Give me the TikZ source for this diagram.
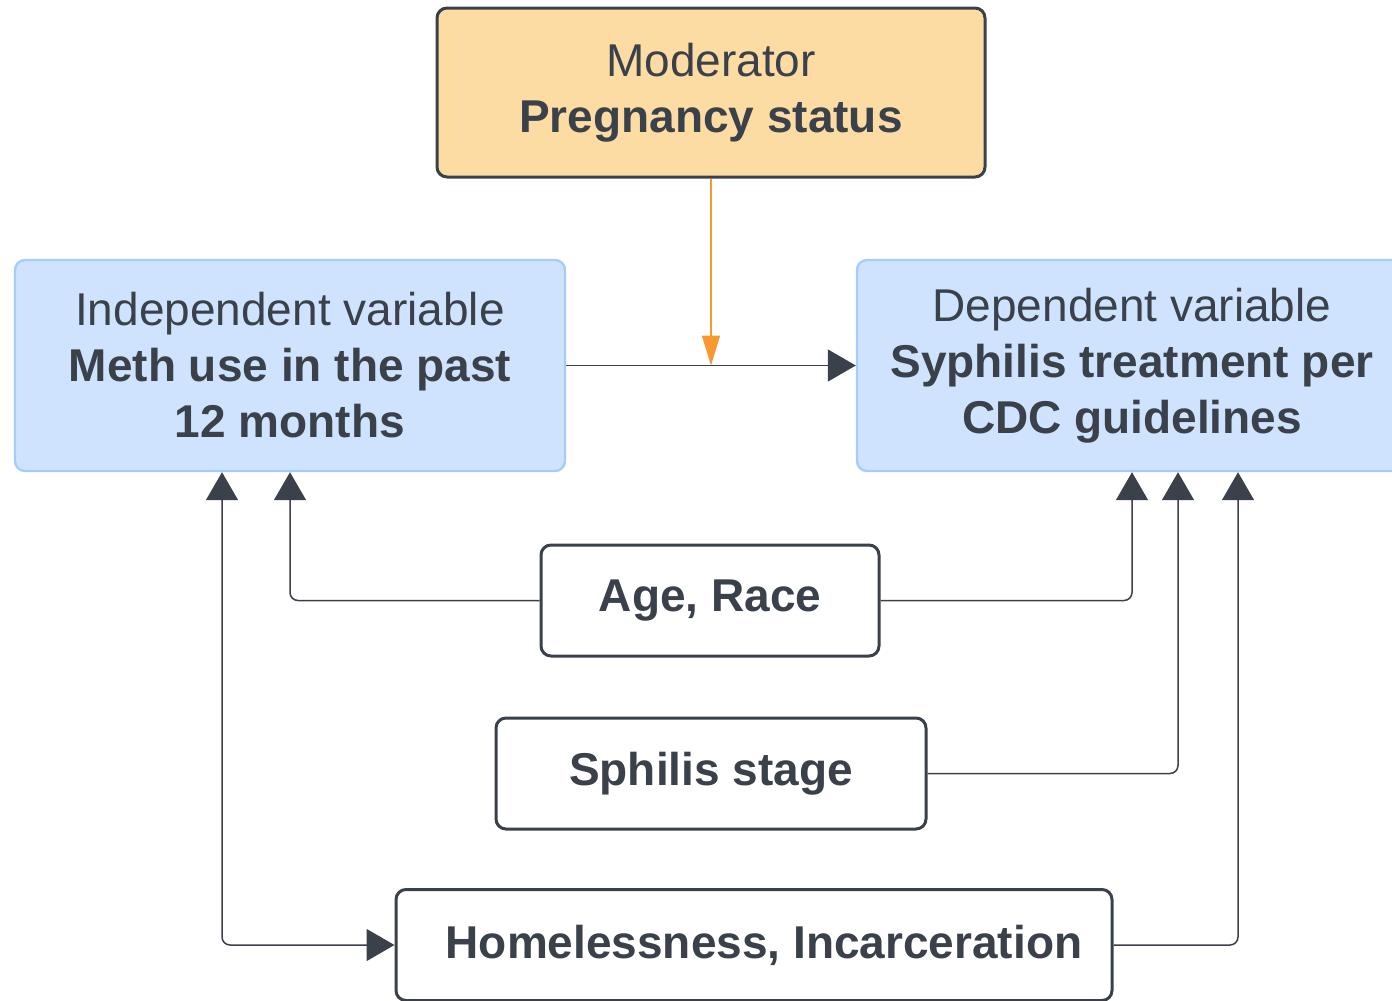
\documentclass[tikz,border=0pt]{standalone}
\usepackage{fontspec}
\setmainfont{Liberation Sans}
\usepackage{xcolor}
\usepackage{tikz}
\usetikzlibrary{arrows.meta}

\definecolor{ink}{HTML}{3A414A}
\definecolor{modfill}{HTML}{FDDCA4}
\definecolor{varfill}{HTML}{CFE3FF}
\definecolor{varline}{HTML}{A6CCFA}
\definecolor{modarrow}{HTML}{F8992F}

\begin{document}
\begin{tikzpicture}[x=0.5pt, y=-0.5pt,
    every node/.style={text=ink, font=\fontsize{23}{28}\selectfont, align=center, inner sep=0pt},
    modbox/.style={draw=ink, line width=1.5pt, fill=modfill, rounded corners=5pt},
    varbox/.style={draw=varline, line width=1.2pt, fill=varfill, rounded corners=5pt, minimum width=275pt, minimum height=105.5pt},
    confbox/.style={draw=ink, line width=1.5pt, fill=white, rounded corners=5pt, minimum height=55.5pt},
    link/.style={draw=ink, line width=0.75pt, rounded corners=4pt, -{Triangle[length=14pt, width=16pt]}},
    modlink/.style={draw=modarrow, line width=0.75pt, -{Triangle[length=15pt, width=9pt]}}]
    \useasboundingbox (0,0) rectangle (1392,1001);
    \node[modbox, minimum width=274pt, minimum height=84.5pt] (mod) at (711,92.5) {Moderator\\\textbf{Pregnancy status}};
    \node[varbox] (iv) at (290,365.5) {Independent variable\\\textbf{Meth use in the past}\\\textbf{12 months}};
    \node[varbox] (dv) at (1132,365.5) {Dependent variable\\\textbf{Syphilis treatment per}\\\textbf{CDC guidelines}};
    \node[confbox, minimum width=169pt] (age) at (710,600.5) {\textbf{Age, Race}};
    \node[confbox, minimum width=215pt] (stage) at (711,773.5) {\textbf{Sphilis stage}};
    \node[confbox, minimum width=358pt] (home) at (754,945) {\hspace*{10pt}\textbf{Homelessness, Incarceration}};

    \draw[link] (iv.east) -- (dv.west);
    \draw[modlink] (mod.south) -- (mod.south |- iv.east);
    \draw[link] (age.west) -| (iv.south);
    \draw[link] (age.east) -| (dv.south);
    \draw[link] (stage.east) -| ([xshift=23pt]dv.south);
    \draw[link] (home.east) -| ([xshift=53pt]dv.south);
    \draw[link, {Triangle[length=14pt, width=16pt]}-{Triangle[length=14pt, width=16pt]}] ([xshift=-34pt]iv.south) |- (home.west);
\end{tikzpicture}
\end{document}
